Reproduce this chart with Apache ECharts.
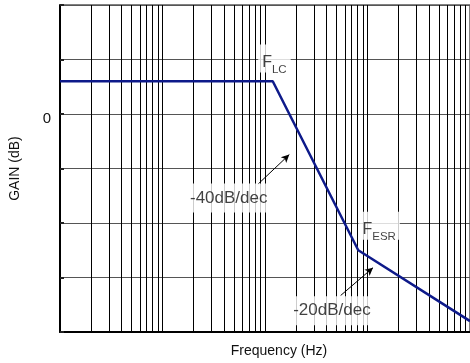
<!DOCTYPE html>
<html>
<head>
<meta charset="utf-8">
<script src="https://cdn.jsdelivr.net/npm/echarts@6/dist/echarts.min.js"></script>
<style>
html,body{margin:0;padding:0;background:#fff;}
#c{width:470px;height:363px;}
</style>
</head>
<body>
<div id="c"></div>
<script>
// ---- data ----
var freqs = [1, 119, 813, 10000];          // Hz
var gains = [6, 6, -25, -38];              // dB
var decades = [1, 10, 100, 1000];
var multipliers = [1, 2, 3, 4, 5, 6, 7, 8, 9];
var yTicks = [-40, -30, -20, -10, 0, 10, 20];
var yLabelShown = [0];
var labelFreqs = [123.6, 1300, 44.3, 450];
var labelGains = [10.2, -20.5, -15.4, -36.1];
var labelTexts = ['{a|F}{b|LC}', '{a|F}{b|ESR}', '{c|-40dB/dec}', '{c|-20dB/dec}'];
var arrowFrom = [[85.2, -12.9], [547, -33.3]];
var arrowTo = [[172.6, -7.45], [1132, -28.2]];

// ---- build ----
var gridFreqs = [];
decades.forEach(function (d) {
  multipliers.forEach(function (m) {
    var f = d * m;
    if (f > 1) gridFreqs.push(f);
  });
});
var lineData = freqs.map(function (f, i) { return [f, gains[i]]; });
var labelData = labelFreqs.map(function (f, i) { return [f, labelGains[i], labelTexts[i]]; });
var arrowData = arrowFrom.map(function (p, i) {
  return [{ coord: p }, { coord: arrowTo[i] }];
});

var font = "'Liberation Sans', Arial, sans-serif";
var chart = echarts.init(document.getElementById('c'), null, { renderer: 'canvas' });
chart.setOption({
  animation: false,
  grid: { left: 59, top: 5, right: -2, bottom: 28, show: true, borderColor: '#000', borderWidth: 1, backgroundColor: 'transparent' },
  xAxis: {
    type: 'log', logBase: 10, min: 1, max: 10000,
    name: 'Frequency (Hz)', nameLocation: 'middle', nameGap: 12,
    nameTextStyle: { fontFamily: font, fontSize: 14, color: '#111', padding: [0, 0, 0, 28] },
    axisLine: { show: true, onZero: false, lineStyle: { color: '#000', width: 2 } },
    axisTick: { show: false }, axisLabel: { show: false }, splitLine: { show: false }
  },
  yAxis: {
    type: 'value', min: -40, max: 20, interval: 10,
    name: 'GAIN (dB)', nameLocation: 'middle', nameGap: 38, nameRotate: 90,
    nameTextStyle: { fontFamily: font, fontSize: 14, color: '#111' },
    axisLine: { show: true, onZero: false, lineStyle: { color: '#000', width: 2 } },
    axisTick: { show: true, inside: true, length: 4, lineStyle: { color: '#222', width: 2 } },
    axisLabel: {
      fontFamily: font, fontSize: 15, color: '#111', margin: 9,
      verticalAlign: 'top', lineHeight: 10,
      formatter: function (v) { return yLabelShown.indexOf(v) >= 0 ? String(v) : ''; }
    },
    splitLine: { show: true, lineStyle: { color: '#555', width: 1 } }
  },
  series: [
    {
      type: 'line', data: [], z: 1, silent: true,
      markLine: {
        silent: true, symbol: ['none', 'none'], label: { show: false },
        lineStyle: { color: '#000', width: 1, type: 'solid' },
        data: gridFreqs.map(function (f) { return { xAxis: f }; }),
        animation: false
      }
    },
    {
      type: 'line', data: lineData, z: 5, symbol: 'none', silent: true,
      lineStyle: { color: '#0e1a8a', width: 2.5 }
    },
    {
      type: 'line', data: [], z: 6, silent: true,
      markLine: {
        silent: true, symbol: ['none', 'arrow'], symbolSize: [6, 8], label: { show: false },
        lineStyle: { color: '#000', width: 1, type: 'solid' },
        data: arrowData, animation: false
      }
    },
    {
      type: 'scatter', data: labelData, z: 10, symbolSize: 0, silent: true,
      label: {
        show: true, position: 'inside',
        formatter: function (p) { return p.data[2]; },
        backgroundColor: '#fff', padding: [6, 4, 6, 4],
        rich: {
          a: { fontFamily: font, fontSize: 16, color: '#111', lineHeight: 16, verticalAlign: 'top', padding: [4, 0, 0, 0] },
          b: { fontFamily: font, fontSize: 11.5, color: '#111', lineHeight: 11.5, verticalAlign: 'top', padding: [13, 0, 4, 0] },
          c: { fontFamily: font, fontSize: 17, color: '#111', lineHeight: 17, padding: [2, 0, 2, 0] }
        }
      }
    }
  ]
});
</script>
</body>
</html>
